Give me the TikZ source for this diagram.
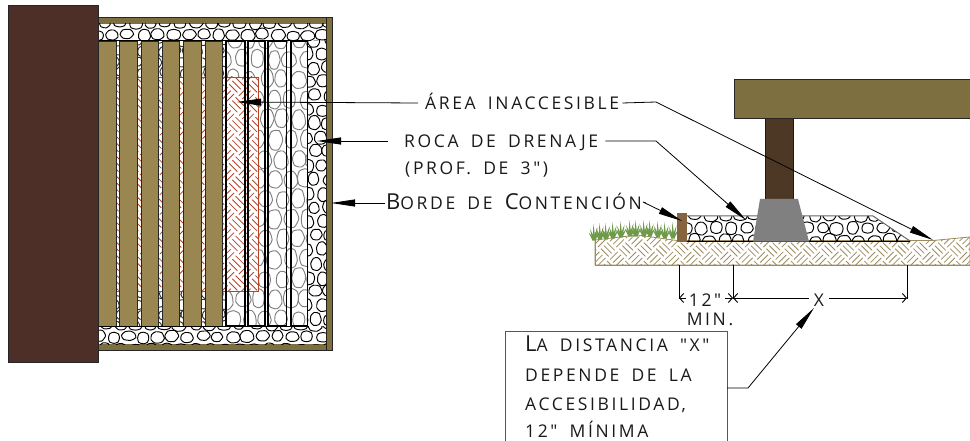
\documentclass[tikz,border=0pt]{standalone}
\usepackage{fontspec}
\usetikzlibrary{arrows.meta}
\newfontfamily\cadfont[LetterSpace=15,WordSpace=1.7]{Open Sans}
\definecolor{postA}{HTML}{4D2F27}
\definecolor{postB}{HTML}{4D3826}
\definecolor{beamC}{HTML}{7D6F40}
\definecolor{boardC}{HTML}{998650}
\definecolor{footC}{HTML}{808080}
\definecolor{edgeC}{HTML}{85643F}
\definecolor{soilC}{HTML}{9C8C5E}
\definecolor{redC}{HTML}{B5452A}
\definecolor{boxC}{HTML}{983F28}
\definecolor{grassC}{HTML}{6F9A4A}
\newcommand\blobA{plot[smooth cycle,tension=.4] coordinates {(1,0)(.75,.75)(0,1)(-.8,.75)(-1,0)(-.75,-.75)(0,-1)(.8,-.7)}}
\newcommand\blobB{plot[smooth cycle,tension=.4] coordinates {(1,.2)(.55,.9)(-.4,1)(-1,.4)(-.9,-.5)(-.3,-1)(.6,-.85)}}
\newcommand\blobC{plot[smooth cycle,tension=.4] coordinates {(.85,-.5)(1,.4)(.3,1)(-.7,.8)(-1,-.1)(-.5,-.9)(.3,-1)}}
\newcommand\blobD{plot[smooth cycle,tension=.4] coordinates {(1,0)(.4,.95)(-.55,.9)(-1,.1)(-.6,-.85)(.5,-.95)}}
\newcommand\rockfield[7]{%
 \begin{scope}
 \clip (#1,#2) rectangle (#3,#4);
 \pgfmathtruncatemacro\nrx{(#3-#1)/#6+2}
 \pgfmathtruncatemacro\nry{(#4-#2)/#7+2}
 \foreach \ix in {0,...,\nrx}{\foreach \iy in {0,...,\nry}{
   \pgfmathsetmacro\cxv{#1+(\ix+0.5*mod(\iy,2)-0.5)*#6+1.6*rand}
   \pgfmathsetmacro\cyv{#2+(\iy-0.1)*#7+1.3*rand}
   \pgfmathsetmacro\sxv{#6*(.36+.12*rnd)}
   \pgfmathsetmacro\syv{#7*(.38+.12*rnd)}
   \pgfmathtruncatemacro\kv{random(1,4)}
   \ifcase\kv\or\let\blobcur\blobA\or\let\blobcur\blobB\or\let\blobcur\blobC\or\let\blobcur\blobD\fi
   \draw[draw=#5,line width=.95pt,shift={(\cxv,\cyv)},xscale=\sxv,yscale=\syv] \blobcur;
 }}
 \end{scope}}
\newcommand\weave[6]{%
 \begin{scope}
 \clip (#1,#2) rectangle (#3,#4);
 \pgfmathsetmacro\mx{(#1+#3)/2}\pgfmathsetmacro\my{(#2+#4)/2}
 \pgfmathtruncatemacro\nw{(abs(#3-#1)+abs(#4-#2))/2/#6/1.41+2}
 \begin{scope}[shift={(\mx,\my)},rotate=45]
 \foreach \i in {-\nw,...,\nw}{\foreach \j in {-\nw,...,\nw}{
   \ifodd\numexpr\i+\j+1000\relax
    \draw[draw=#5,line width=.8pt,shift={(\i*#6,\j*#6)}] (.08*#6,.17*#6)--(.92*#6,.17*#6) (.08*#6,.5*#6)--(.92*#6,.5*#6) (.08*#6,.83*#6)--(.92*#6,.83*#6);
   \else
    \draw[draw=#5,line width=.8pt,shift={(\i*#6,\j*#6)}] (.17*#6,.08*#6)--(.17*#6,.92*#6) (.5*#6,.08*#6)--(.5*#6,.92*#6) (.83*#6,.08*#6)--(.83*#6,.92*#6);
   \fi
 }}
 \end{scope}
 \end{scope}}
\newcommand\tuft[2]{%
 \foreach \a/\h in {-34/10,-16/13,2/16,20/12,36/9}{
   \fill[grassC,shift={(#1,#2)},rotate=\a] (-1.5,0)--(0,-\h)--(1.5,0)--cycle;}}
\newcommand\capbig[1]{{\fontsize{22}{22}\selectfont #1}}
\tikzset{
 lbl/.style={font=\cadfont\fontsize{17.5}{18}\selectfont,inner sep=0pt,anchor=west,text height=13pt,text depth=0pt,text=black!90},
 leaderline/.style={draw=black,line width=.8pt},
 tipped/.style={leaderline,-{Triangle[length=24pt,width=7pt]}},
 dimline/.style={draw=black,line width=.9pt,-{Straight Barb[length=4pt,width=9pt]}},
 extline/.style={draw=black,line width=.9pt},
 outlined/.style={draw=black!85,line width=.8pt},
}
\begin{document}
\begin{tikzpicture}[x=1pt,y=-1pt]
\pgfmathsetseed{4242}
\useasboundingbox (0,0) rectangle (970,441);
% ---------- plan
\fill[beamC,draw=black!85,line width=.8pt] (98,17) rectangle (332,350);
\fill[white] (98,24) rectangle (326,344);
\draw[black!70!beamC,line width=.6pt] (326,17)--(326,350);
\rockfield{98}{24}{326}{41}{black}{15}{12}
\rockfield{98}{326}{326}{344}{black}{15}{12}
\rockfield{308}{41}{326}{326}{black}{14}{14}
\rockfield{98}{41}{226}{326}{black!80}{11}{11}
\rockfield{226}{41}{308}{326}{black!50}{16}{20}
\fill[white] (116,77) rectangle (258,291);
\weave{116}{77}{258}{291}{redC}{14}
\draw[redC,line width=.9pt] (116,77)--(258,77)--(258,291)--(116,291);
\foreach \xa/\xb in {98/116,119/137,141/158,162/179,183/201,205/222}{
  \fill[boardC,outlined] (\xa,41) rectangle (\xb,326);}
\foreach \xa/\xb in {226/245,248/265,268/286.5,291/307.5}{
  \draw[black,line width=1.6pt] (\xa,41) rectangle (\xb,326);}
\draw[black,line width=1pt] (98,41)--(308,41) (98,326)--(308,326);
\fill[postA,draw=black!85,line width=.8pt] (8,5) rectangle (98,362);
% ---------- section
\fill[white,draw=soilC,line width=.8pt] (595,240)--(637,235)--(677,240.5)--(933,240.5)--(970,237)--(970,265)--(595,265)--cycle;
\begin{scope}
 \clip (595,240)--(637,235)--(677,240.5)--(933,240.5)--(970,237)--(970,265)--(595,265)--cycle;
 \weave{595}{233}{970}{266}{soilC}{13}
\end{scope}
\draw[soilC,line width=1pt] (595,265)--(970,265) (595,240)--(595,265);
\foreach \gx/\gy in {594/240,600/239,606/239,613/238,621/237,630/236,636/236,644/236,650/236,658/237,665/238,673/238}{\tuft{\gx}{\gy}}
\begin{scope}
 \clip (687,216)--(873,216)--(910,241)--(687,241)--cycle;
 \rockfield{687}{216}{912}{241}{black}{15}{13}
\end{scope}
\draw[black!60,line width=1pt] (687,216)--(873,216)--(910,241);
\draw[black,line width=.8pt] (687,241)--(910,241);
\fill[edgeC] (677,213) rectangle (687,242);
\fill[postB,draw=black!90,line width=.8pt] (765,118) rectangle (793,199);
\fill[footC] (760,199)--(798,199)--(809,241.5)--(753,241.5)--cycle;
\fill[beamC,draw=black!85,line width=.9pt] (734.5,79) rectangle (975,118);
% ---------- labels
\node[lbl] (area) at (425,103) {ÁREA INACCESIBLE};
\node[lbl] (roca) at (404,141) {ROCA DE DRENAJE};
\node[lbl] (prof) at (405,168) {(PROF. DE 3")};
\node[lbl] (borde) at (386,203) {\capbig{B}ORDE DE \capbig{C}ONTENCIÓN};
\coordinate (tipAL) at (237,102);
\coordinate (tipAR) at (933,240);
\coordinate (bendA) at (656,102);
\coordinate (tipRL) at (317,141);
\coordinate (tipRR) at (746,220);
\coordinate (bendR) at (656,141);
\coordinate (tipBL) at (331,203);
\coordinate (tipBR) at (682,221);
\coordinate (bendB) at (643,202);
\draw[tipped] ([xshift=-7pt]area.west) -- (tipAL);
\draw[tipped] ([xshift=3pt]area.east) -- (bendA) -- (tipAR);
\draw[tipped] ([xshift=-16pt]roca.west) -- (tipRL);
\draw[tipped] ([xshift=7pt]roca.east) -- (bendR) -- (tipRR);
\draw[tipped] ([xshift=-1pt]borde.west) -- (tipBL);
\draw[tipped] ([xshift=4pt]borde.east) -- (bendB) -- (tipBR);
% ---------- dimensions
\coordinate (extA) at (679,298);
\coordinate (extB) at (733,298);
\coordinate (extC) at (907,298);
\coordinate (baseA) at (679,265);
\coordinate (baseB) at (733,265);
\coordinate (baseC) at (907,265);
\draw[extline] (baseA)--([yshift=-1pt]extA) (baseB)--([yshift=-1pt]extB) (baseC)--([yshift=-1pt]extC);
\node[lbl,anchor=center] (dimT) at (705,300) {12"};
\node[lbl,anchor=center] (dimM) at (710,319) {MIN.};
\node[lbl,anchor=center] (dimX) at (819,300) {X};
\draw[dimline] ([xshift=-3pt,yshift=2pt]dimT.west) -- (extA);
\draw[dimline] ([xshift=4pt,yshift=2pt]dimT.east) -- (extB);
\draw[dimline] ([xshift=-5pt,yshift=2pt]dimX.west) -- (extB);
\draw[dimline] ([xshift=5pt,yshift=2pt]dimX.east) -- (extC);
% ---------- note
\draw[boxC,line width=1pt] (505,441)--(505,331)--(727,331)--(727,441);
\node[lbl] (noteA) at (525,345) {\capbig{L}A DISTANCIA "X"};
\node[lbl] (noteB) at (525,375) {DEPENDE DE LA};
\node[lbl] (noteC) at (525,404) {ACCESIBILIDAD,};
\node[lbl] (noteD) at (525,431) {12" MÍNIMA};
\coordinate (noteEdge) at (727,388);
\coordinate (noteBend) at (748,388);
\draw[tipped] (noteEdge) -- (noteBend) -- ([xshift=-5pt,yshift=-8pt]dimX.center);
\end{tikzpicture}
\end{document}
